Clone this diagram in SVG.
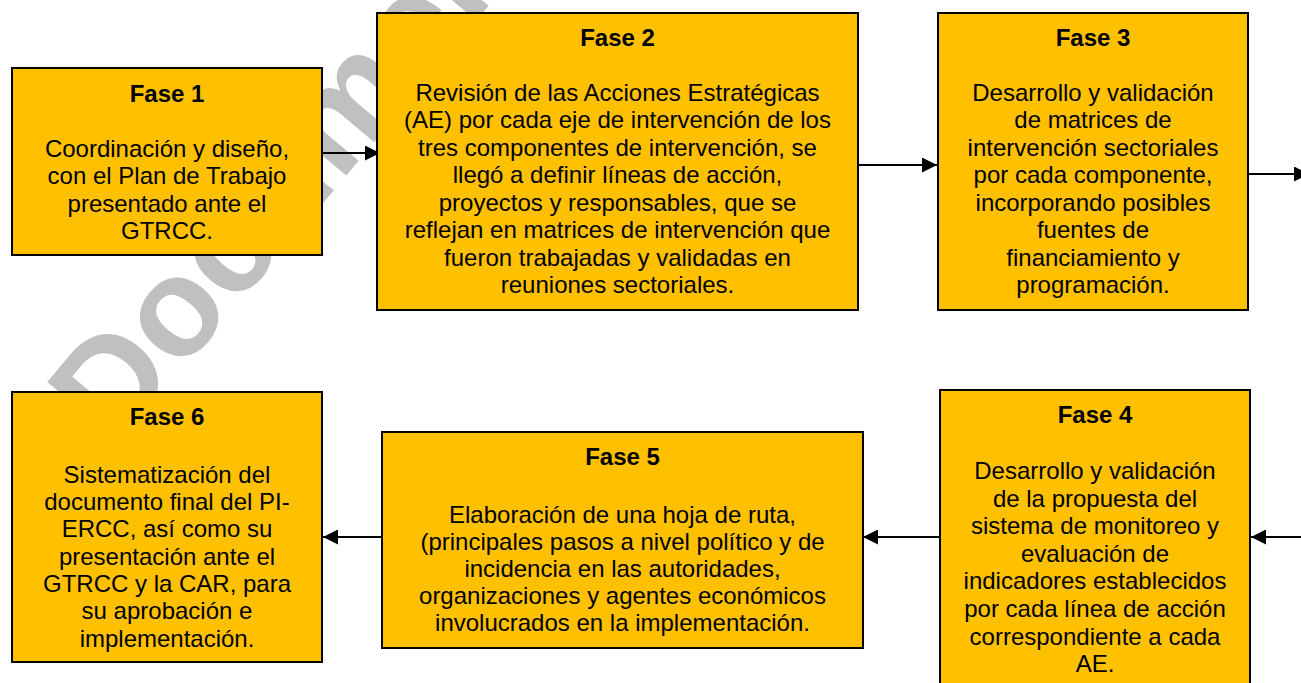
<svg xmlns="http://www.w3.org/2000/svg" width="1301" height="683" viewBox="0 0 1301 683">
<style>
.box{fill:#FFC000;stroke:#000;stroke-width:2}
.t{font-family:"Liberation Sans",Arial,sans-serif;font-size:24px;fill:#000;text-anchor:middle}
.h{font-weight:bold}
.c{stroke:#000;stroke-width:2;fill:none}
.wm{font-family:"Liberation Sans",Arial,sans-serif;font-size:140px;font-weight:bold;fill:#c0c0c0}
</style>
<defs>
<marker id="ah" markerUnits="userSpaceOnUse" markerWidth="15" markerHeight="15" refX="15" refY="7.5" orient="auto">
<path d="M0,0 L15,7.5 L0,15 z" fill="#000"/>
</marker>
</defs>
<rect width="1301" height="683" fill="#fff"/>
<text class="wm" x="115" y="451" transform="rotate(-50 115 451)">Document</text>

<g id="connectors">
<line class="c" x1="322" y1="153" x2="380" y2="153" marker-end="url(#ah)"/>
<line class="c" x1="858" y1="165" x2="937" y2="165" marker-end="url(#ah)"/>
<line class="c" x1="1248" y1="174" x2="1309" y2="174" marker-end="url(#ah)"/>
<line class="c" x1="1310" y1="537" x2="1251" y2="537" marker-end="url(#ah)"/>
<line class="c" x1="940" y1="537" x2="863" y2="537" marker-end="url(#ah)"/>
<line class="c" x1="382" y1="537" x2="323" y2="537" marker-end="url(#ah)"/>
</g>

<g id="fase1">
<rect class="box" x="12" y="68" width="310" height="187"/>
<text class="t h" x="167" y="102">Fase 1</text>
<text class="t"><tspan x="167" y="157">Coordinación y diseño,</tspan><tspan x="167" dy="27.3">con el Plan de Trabajo</tspan><tspan x="167" dy="27.3">presentado ante el</tspan><tspan x="167" dy="27.3">GTRCC.</tspan></text>
</g>

<g id="fase2">
<rect class="box" x="377" y="13" width="481" height="297"/>
<text class="t h" x="617.5" y="46">Fase 2</text>
<text class="t"><tspan x="617.5" y="100.7">Revisión de las Acciones Estratégicas</tspan><tspan x="617.5" dy="27.5">(AE) por cada eje de intervención de los</tspan><tspan x="617.5" dy="27.5">tres componentes de intervención, se</tspan><tspan x="617.5" dy="27.5">llegó a definir líneas de acción,</tspan><tspan x="617.5" dy="27.5">proyectos y responsables, que se</tspan><tspan x="617.5" dy="27.5">reflejan en matrices de intervención que</tspan><tspan x="617.5" dy="27.5">fueron trabajadas y validadas en</tspan><tspan x="617.5" dy="27.5">reuniones sectoriales.</tspan></text>
</g>

<g id="fase3">
<rect class="box" x="938" y="13" width="310" height="297"/>
<text class="t h" x="1093" y="46">Fase 3</text>
<text class="t"><tspan x="1093" y="100.7">Desarrollo y validación</tspan><tspan x="1093" dy="27.5">de matrices de</tspan><tspan x="1093" dy="27.5">intervención sectoriales</tspan><tspan x="1093" dy="27.5">por cada componente,</tspan><tspan x="1093" dy="27.5">incorporando posibles</tspan><tspan x="1093" dy="27.5">fuentes de</tspan><tspan x="1093" dy="27.5">financiamiento y</tspan><tspan x="1093" dy="27.5">programación.</tspan></text>
</g>

<g id="fase4">
<rect class="box" x="940" y="390" width="310" height="300"/>
<text class="t h" x="1095" y="423">Fase 4</text>
<text class="t"><tspan x="1095" y="479">Desarrollo y validación</tspan><tspan x="1095" dy="27.6">de la propuesta del</tspan><tspan x="1095" dy="27.6">sistema de monitoreo y</tspan><tspan x="1095" dy="27.6">evaluación de</tspan><tspan x="1095" dy="27.6">indicadores establecidos</tspan><tspan x="1095" dy="27.6">por cada línea de acción</tspan><tspan x="1095" dy="27.6">correspondiente a cada</tspan><tspan x="1095" dy="27.6">AE.</tspan></text>
</g>

<g id="fase5">
<rect class="box" x="382" y="432" width="481" height="216"/>
<text class="t h" x="622.5" y="465">Fase 5</text>
<text class="t"><tspan x="622.5" y="522.5">Elaboración de una hoja de ruta,</tspan><tspan x="622.5" dy="27">(principales pasos a nivel político y de</tspan><tspan x="622.5" dy="27">incidencia en las autoridades,</tspan><tspan x="622.5" dy="27">organizaciones y agentes económicos</tspan><tspan x="622.5" dy="27">involucrados en la implementación.</tspan></text>
</g>

<g id="fase6">
<rect class="box" x="12" y="392" width="310" height="270"/>
<text class="t h" x="167" y="425">Fase 6</text>
<text class="t"><tspan x="167" y="482.7">Sistematización del</tspan><tspan x="167" dy="27.3">documento final del PI-</tspan><tspan x="167" dy="27.3">ERCC, así como su</tspan><tspan x="167" dy="27.3">presentación ante el</tspan><tspan x="167" dy="27.3">GTRCC y la CAR, para</tspan><tspan x="167" dy="27.3">su aprobación e</tspan><tspan x="167" dy="27.3">implementación.</tspan></text>
</g>
</svg>
